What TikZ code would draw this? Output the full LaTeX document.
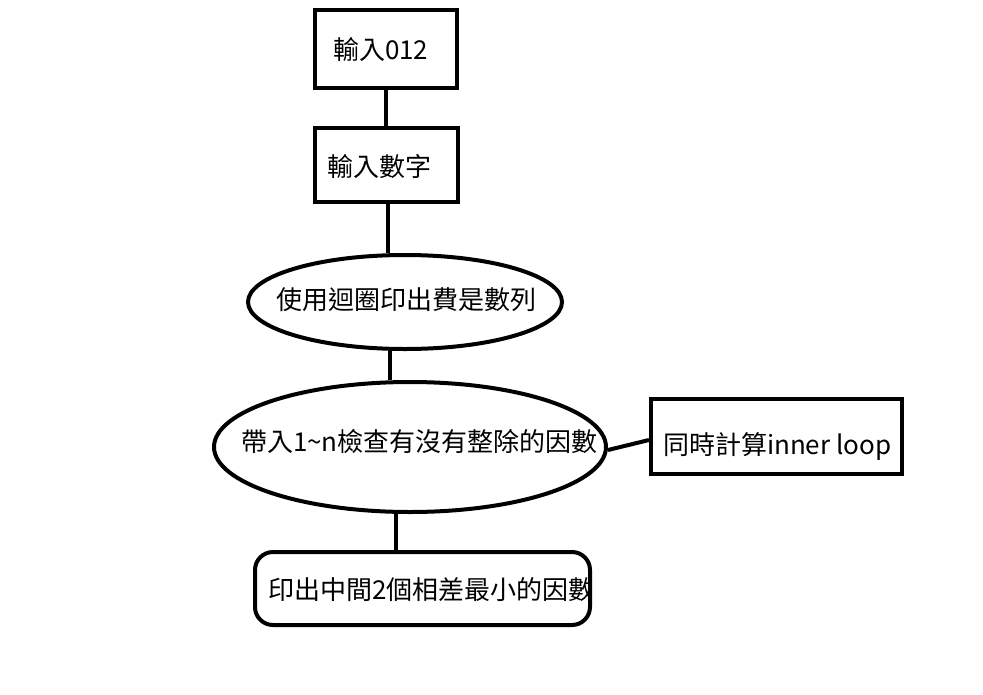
\documentclass[tikz,border=0pt]{standalone}
\usepackage{fontspec}
\setmainfont{Noto Sans CJK TC}
\usetikzlibrary{shapes.geometric,calc}
\begin{document}
\begin{tikzpicture}[x=1pt,y=-1pt,line width=4pt,
  shapebox/.style={draw=black,fill=white,inner sep=0pt,rectangle},
  shapeell/.style={draw=black,fill=white,inner sep=0pt,ellipse},
  lbl/.style={inner sep=0pt,anchor=west,font=\fontsize{26pt}{30pt}\selectfont},
  conn/.style={draw=black,line width=4pt}]
\useasboundingbox (0,0) rectangle (983,694);
\node[shapebox,minimum width=142pt,minimum height=78pt] (b1) at (386,49) {};
\node[shapebox,minimum width=143pt,minimum height=74pt] (b2) at (386.5,165) {};
\node[shapeell,minimum width=314pt,minimum height=94pt] (e1) at (405,302) {};
\node[shapeell,minimum width=392pt,minimum height=130pt] (e2) at (410,447) {};
\node[shapebox,minimum width=251pt,minimum height=75pt] (b3) at (776.5,436.5) {};
\node[shapebox,rounded corners=18pt,minimum width=335pt,minimum height=73pt] (b4) at (422.5,588.5) {};
\node[lbl] (t1) at (331,50) {輸入012};
\node[lbl] (t2) at (325,167) {輸入數字};
\node[lbl,anchor=center] (t3) at (406,300) {使用迴圈印出費是數列};
\begin{scope}
\clip (e2.center) ellipse (194pt and 63pt);
\node[lbl] (t4) at (239,442) {帶入1\textasciitilde n檢查有沒有整除的因數};
\end{scope}
\node[lbl] (t5) at (661,446) {同時計算inner loop};
\begin{scope}
\clip (257,554) rectangle (588,623);
\node[lbl] (t6) at (266,590) {印出中間2個相差最小的因數};
\end{scope}
\draw[conn] (b1.south) -- (b1.south |- b2.north);
\draw[conn] ([xshift=1.5pt]b2.south) -- ([xshift=1.5pt]b2.south |- e1.north);
\draw[conn] ([xshift=-15pt]e1.south) -- ([xshift=-15pt]e1.south |- e2.north);
\draw[conn] ([xshift=-14pt]e2.south) -- ([xshift=-14pt]e2.south |- b4.north);
\draw[conn] ([yshift=-3pt]e2.east) -- ([yshift=-3.5pt]b3.west);
\end{tikzpicture}
\end{document}
